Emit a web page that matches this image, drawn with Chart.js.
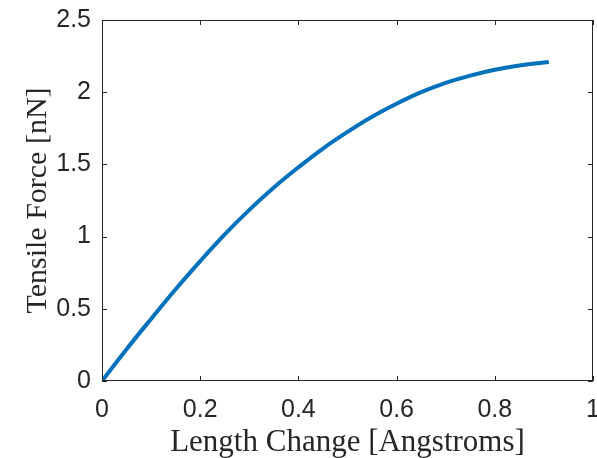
<!DOCTYPE html>
<html>
<head>
<meta charset="utf-8">
<script src="https://cdn.jsdelivr.net/npm/chart.js@4.4.1/dist/chart.umd.min.js"></script>
<style>
  html, body { margin: 0; padding: 0; background: #fff; }
  #wrap { width: 597px; height: 458px; }
</style>
</head>
<body>
<div id="wrap"><canvas id="myChart" width="597" height="458"></canvas></div>
<script>
// length change [Angstroms] and tensile force [nN]
const lengthChange = [0, 0.05, 0.1, 0.15, 0.2, 0.25, 0.3, 0.35, 0.4, 0.45, 0.5,
  0.55, 0.6, 0.65, 0.7, 0.75, 0.8, 0.85, 0.9, 0.91];
const tensileForce = [0, 0.22, 0.43, 0.635, 0.83, 1.015, 1.185, 1.34, 1.48, 1.61, 1.725,
  1.83, 1.92, 2.00, 2.065, 2.115, 2.155, 2.185, 2.205, 2.209];
const xTicks = [0, 0.2, 0.4, 0.6, 0.8, 1];
const yTicks = [0, 0.5, 1, 1.5, 2, 2.5];

const axisColor = '#262626';

// box around the plot + inward ticks on all four sides (matlab style)
const boxTicks = {
  id: 'boxTicks',
  afterDatasetsDraw(chart) {
    const { ctx, chartArea: a, scales: { x, y } } = chart;
    ctx.save();
    ctx.strokeStyle = axisColor;
    ctx.lineWidth = 1;
    ctx.beginPath();
    ctx.rect(a.left + 0.5, a.top + 0.5, a.right - a.left - 1, a.bottom - a.top - 1);
    const len = 5;
    xTicks.forEach(v => {
      const px = Math.round(x.getPixelForValue(v)) + 0.5;
      ctx.moveTo(px, a.bottom); ctx.lineTo(px, a.bottom - len);
      ctx.moveTo(px, a.top); ctx.lineTo(px, a.top + len);
    });
    yTicks.forEach(v => {
      const py = Math.round(y.getPixelForValue(v)) + 0.5;
      ctx.moveTo(a.left, py); ctx.lineTo(a.left + len, py);
      ctx.moveTo(a.right, py); ctx.lineTo(a.right - len, py);
    });
    ctx.stroke();
    ctx.restore();
  }
};

const ctx = document.getElementById('myChart').getContext('2d');
new Chart(ctx, {
  type: 'line',
  data: {
    datasets: [{
      data: lengthChange.map((v, i) => ({ x: v, y: tensileForce[i] })),
      borderColor: '#0072BD',
      borderWidth: 4,
      pointRadius: 0,
      fill: false,
      tension: 0.4
    }]
  },
  options: {
    responsive: false,
    animation: false,
    layout: { padding: { top: 20, right: 4, left: 0, bottom: 0 } },
    plugins: { legend: { display: false }, tooltip: { enabled: false } },
    scales: {
      x: {
        type: 'linear',
        min: 0, max: 1,
        afterBuildTicks: s => { s.ticks = xTicks.map(v => ({ value: v })); },
        afterFit: s => { s.height = 77; s.paddingLeft = 0; s.paddingRight = 0; },
        grid: { display: false, drawTicks: false },
        border: { display: false },
        ticks: {
          color: axisColor,
          padding: 14,
          maxRotation: 0,
          font: { family: 'Liberation Sans', size: 25 },
          callback: v => String(v)
        },
        title: {
          display: true,
          text: 'Length Change [Angstroms]',
          color: axisColor,
          padding: 0,
          font: { family: 'Liberation Serif', size: 31, lineHeight: 1.0 }
        }
      },
      y: {
        min: 0, max: 2.5,
        afterBuildTicks: s => { s.ticks = yTicks.map(v => ({ value: v })); },
        afterFit: s => { s.width = 102; s.paddingTop = 0; s.paddingBottom = 0; },
        grid: { display: false, drawTicks: false },
        border: { display: false },
        ticks: {
          color: axisColor,
          padding: 11,
          font: { family: 'Liberation Sans', size: 25 },
          callback: v => String(v)
        },
        title: {
          display: true,
          text: 'Tensile Force [nN]',
          color: axisColor,
          padding: 20,
          font: { family: 'Liberation Serif', size: 30 }
        }
      }
    }
  },
  plugins: [boxTicks]
});
</script>
</body>
</html>
